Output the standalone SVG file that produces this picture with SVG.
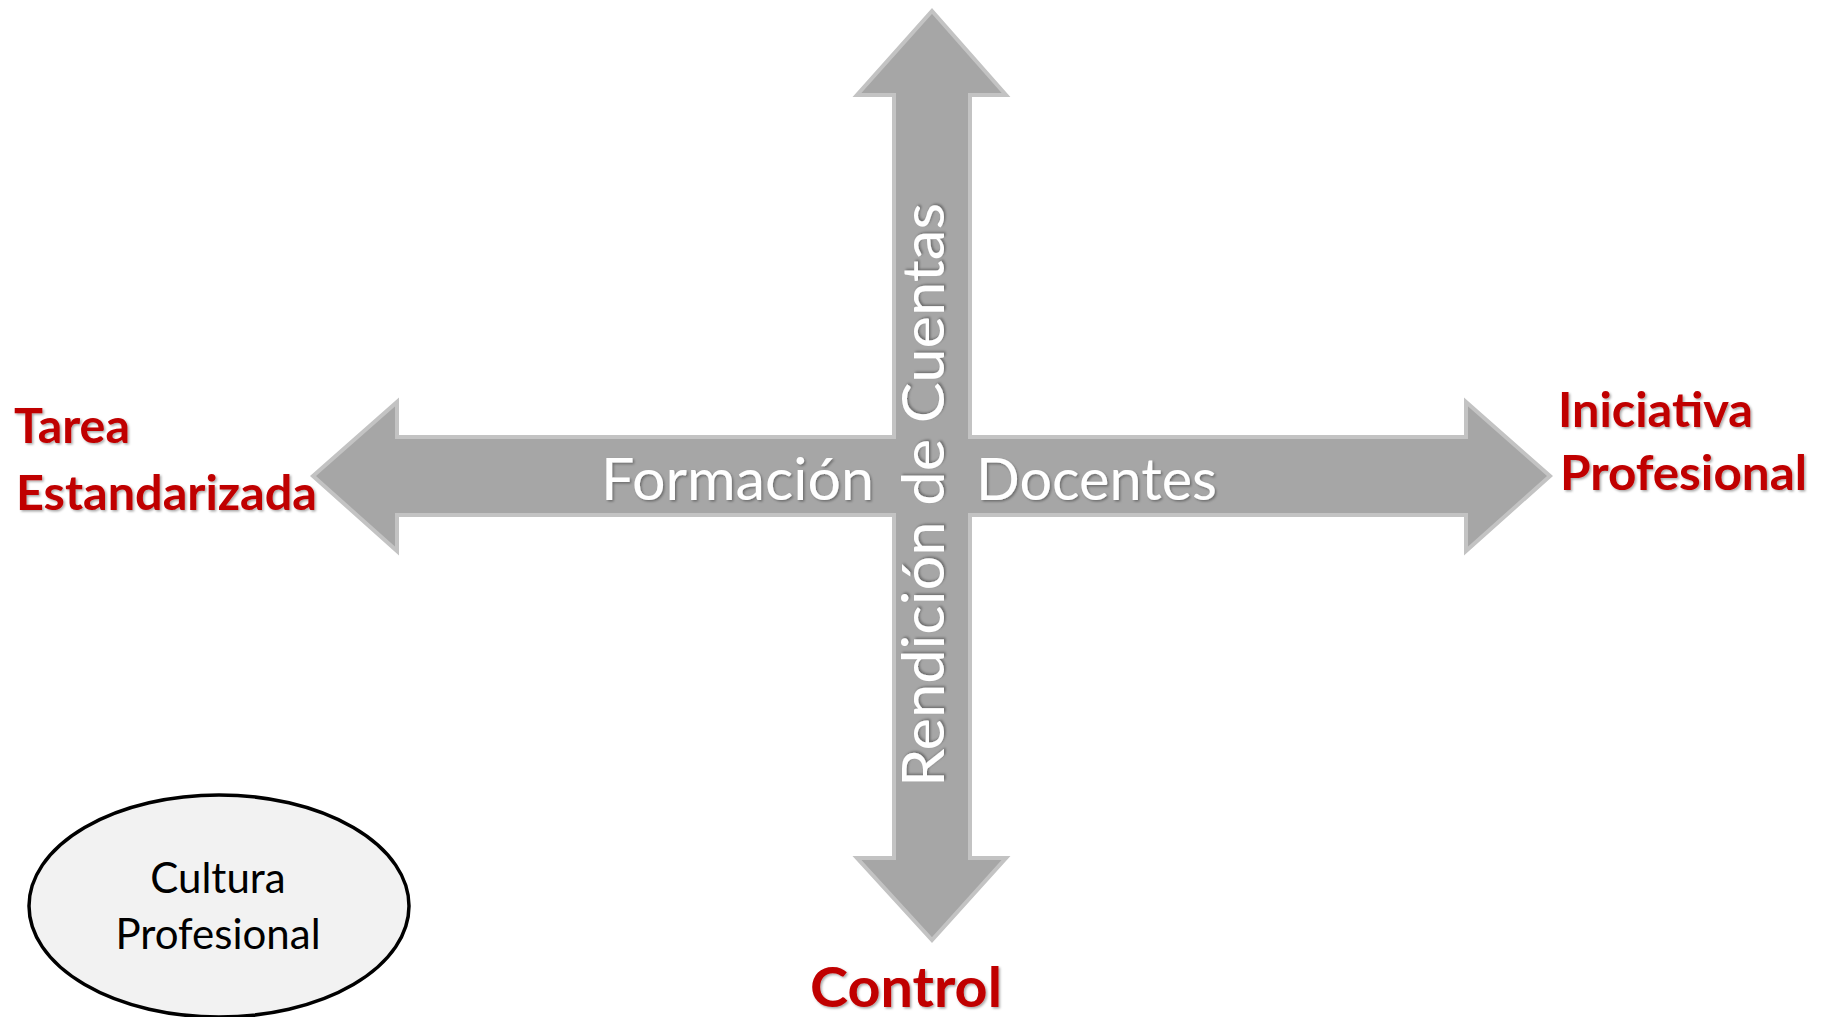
<svg xmlns="http://www.w3.org/2000/svg" width="1822" height="1017" viewBox="0 0 1822 1017">
<defs>
<filter id="sh" x="-10%" y="-20%" width="120%" height="140%">
<feDropShadow dx="1.5" dy="1.5" stdDeviation="1.2" flood-color="#000" flood-opacity="0.35"/>
</filter>
<style>
.axis{fill:#a6a6a6;stroke:#c3c3c3;stroke-width:4;stroke-linejoin:miter}
.wt{font-family:Lato,"Open Sans","Liberation Sans",sans-serif;font-size:58px;fill:#ffffff;filter:url(#sh)}
.rt{font-family:Lato,"Open Sans","Liberation Sans",sans-serif;font-weight:bold;font-size:47px;fill:#c00000;filter:url(#sh)}
.bt{font-family:Lato,"Open Sans","Liberation Sans",sans-serif;font-size:42px;fill:#000000;text-anchor:middle}
</style>
</defs>
<rect width="1822" height="1017" fill="#ffffff"/>
<g id="connectors">
<path class="axis" d="M932,11 L1006,95 L970,95 L970,437 L1466,437 L1466,402 L1550,476 L1466,551 L1466,515 L970,515 L970,858 L1006,858 L932,940 L857,858 L894,858 L894,515 L397,515 L397,551 L313,476 L397,402 L397,437 L894,437 L894,95 L857,95 Z"/>
</g>
<g id="axis-labels">
<text class="wt" x="601" y="500" textLength="273" lengthAdjust="spacingAndGlyphs">Formación</text>
<text class="wt" x="976" y="500" textLength="241" lengthAdjust="spacingAndGlyphs">Docentes</text>
<text class="wt" transform="translate(944,787) rotate(-90)" x="0" y="0" textLength="584" lengthAdjust="spacingAndGlyphs">Rendición de Cuentas</text>
</g>
<g id="tarea">
<text class="rt" x="14" y="443" textLength="116" lengthAdjust="spacingAndGlyphs">Tarea</text>
<text class="rt" x="16" y="510" textLength="301" lengthAdjust="spacingAndGlyphs">Estandarizada</text>
</g>
<g id="iniciativa">
<text class="rt" x="1558" y="427" textLength="195" lengthAdjust="spacingAndGlyphs">Iniciativa</text>
<text class="rt" x="1560" y="490" textLength="247" lengthAdjust="spacingAndGlyphs">Profesional</text>
</g>
<g id="control">
<text class="rt" x="810" y="1007" style="font-size:56px" textLength="192" lengthAdjust="spacingAndGlyphs">Control</text>
</g>
<g id="cultura">
<ellipse cx="219" cy="906" rx="190" ry="111" fill="#f2f2f2" stroke="#000000" stroke-width="3.5"/>
<text class="bt" x="218" y="893">Cultura</text>
<text class="bt" x="218" y="949">Profesional</text>
</g>
</svg>
